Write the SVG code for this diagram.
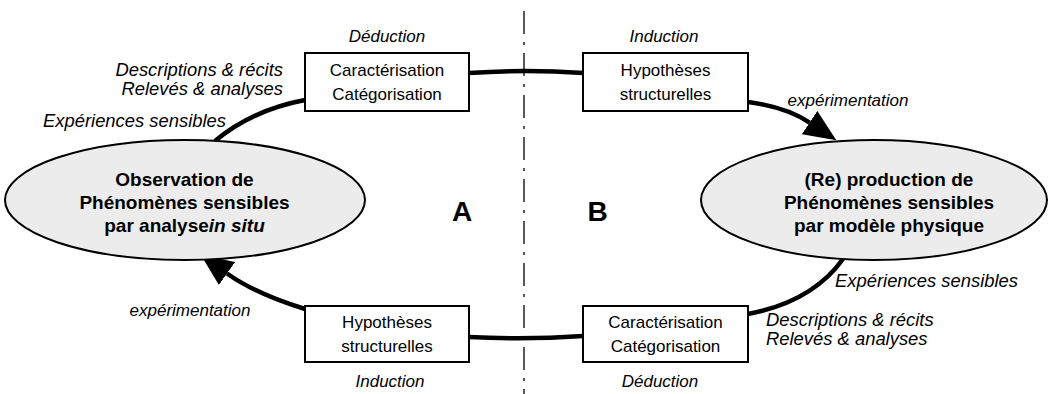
<svg xmlns="http://www.w3.org/2000/svg" width="1050" height="394" viewBox="0 0 1050 394">
  <style>
    .box { fill: #ffffff; stroke: #000000; stroke-width: 2; }
    .ell { fill: #ececec; stroke: #000000; stroke-width: 2; }
    .conn { fill: none; stroke: #000000; stroke-width: 4.5; }
    .t { font-family: "Liberation Sans", Arial, sans-serif; font-size: 17px; fill: #000; }
    .it { font-family: "Liberation Sans", Arial, sans-serif; font-size: 17px; font-style: italic; fill: #000; }
    .itl { font-family: "Liberation Sans", Arial, sans-serif; font-size: 18.4px; font-style: italic; fill: #000; }
    .b { font-family: "Liberation Sans", Arial, sans-serif; font-size: 19px; font-weight: bold; fill: #000; }
    .big { font-family: "Liberation Sans", Arial, sans-serif; font-size: 28px; font-weight: bold; fill: #000; }
    .axis { stroke: #000; stroke-width: 1.3; stroke-dasharray: 23 8 3 8; }
  </style>
  <defs>
    <marker id="arrow" viewBox="0 0 32 28" refX="0" refY="14" markerWidth="32" markerHeight="28" markerUnits="userSpaceOnUse" orient="auto">
      <path d="M0,0 L32,14 L0,28 Z" fill="#000"/>
    </marker>
  </defs>

  <line class="axis" x1="524" y1="11" x2="524" y2="394"/>

  <g id="connectors">
    <path class="conn" d="M215,141 Q252,110 305,100"/>
    <path class="conn" d="M469,73 Q526,69 583,73"/>
    <path class="conn" d="M748,102 Q786,107 809.6,122.6" marker-end="url(#arrow)"/>
    <path class="conn" d="M843,259 Q812,302 748,314"/>
    <path class="conn" d="M583,336 Q526,340 469,337"/>
    <path class="conn" d="M305,309 Q256,294 227,273.5" marker-end="url(#arrow)"/>
  </g>

  <g id="obs">
    <ellipse class="ell" cx="185" cy="200" rx="180" ry="60"/>
    <text class="b" text-anchor="middle" x="184.5" y="186">Observation de</text>
    <text class="b" text-anchor="middle" x="184.5" y="209">Phénomènes sensibles</text>
    <text class="b" text-anchor="middle" x="184.5" y="232">par analyse<tspan font-style="italic">in situ</tspan></text>
  </g>

  <g id="prod">
    <ellipse class="ell" cx="874" cy="200" rx="173" ry="60"/>
    <text class="b" text-anchor="middle" x="889" y="186">(Re) production de</text>
    <text class="b" text-anchor="middle" x="889" y="209">Phénomènes sensibles</text>
    <text class="b" text-anchor="middle" x="889" y="232">par modèle physique</text>
  </g>

  <g id="carac-top">
    <rect class="box" x="305" y="53" width="164" height="58"/>
    <text class="t" text-anchor="middle" x="387" y="76">Caractérisation</text>
    <text class="t" text-anchor="middle" x="387" y="100">Catégorisation</text>
  </g>

  <g id="hypo-top">
    <rect class="box" x="583" y="53" width="165" height="58"/>
    <text class="t" text-anchor="middle" x="665.5" y="76">Hypothèses</text>
    <text class="t" text-anchor="middle" x="665.5" y="100">structurelles</text>
  </g>

  <g id="hypo-bottom">
    <rect class="box" x="305" y="306" width="164" height="56"/>
    <text class="t" text-anchor="middle" x="387" y="328">Hypothèses</text>
    <text class="t" text-anchor="middle" x="387" y="352">structurelles</text>
  </g>

  <g id="carac-bottom">
    <rect class="box" x="583" y="306" width="165" height="56"/>
    <text class="t" text-anchor="middle" x="665.5" y="328">Caractérisation</text>
    <text class="t" text-anchor="middle" x="665.5" y="352">Catégorisation</text>
  </g>

  <g id="labels">
    <text class="it" text-anchor="middle" x="387" y="42">Déduction</text>
    <text class="it" text-anchor="middle" x="664" y="42">Induction</text>
    <text class="it" text-anchor="middle" x="390" y="387">Induction</text>
    <text class="it" text-anchor="middle" x="660" y="387">Déduction</text>
    <text class="itl" text-anchor="end" x="283" y="76">Descriptions &amp; récits</text>
    <text class="itl" text-anchor="end" x="283" y="95">Relevés &amp; analyses</text>
    <text class="itl" text-anchor="end" x="226" y="127">Expériences sensibles</text>
    <text class="it" text-anchor="middle" x="848" y="106">expérimentation</text>
    <text class="it" text-anchor="middle" x="190" y="316">expérimentation</text>
    <text class="itl" x="835" y="287">Expériences sensibles</text>
    <text class="itl" x="766" y="326">Descriptions &amp; récits</text>
    <text class="itl" x="766" y="345">Relevés &amp; analyses</text>
    <text class="big" text-anchor="middle" x="462" y="221">A</text>
    <text class="big" text-anchor="middle" x="597.5" y="221">B</text>
  </g>
</svg>
